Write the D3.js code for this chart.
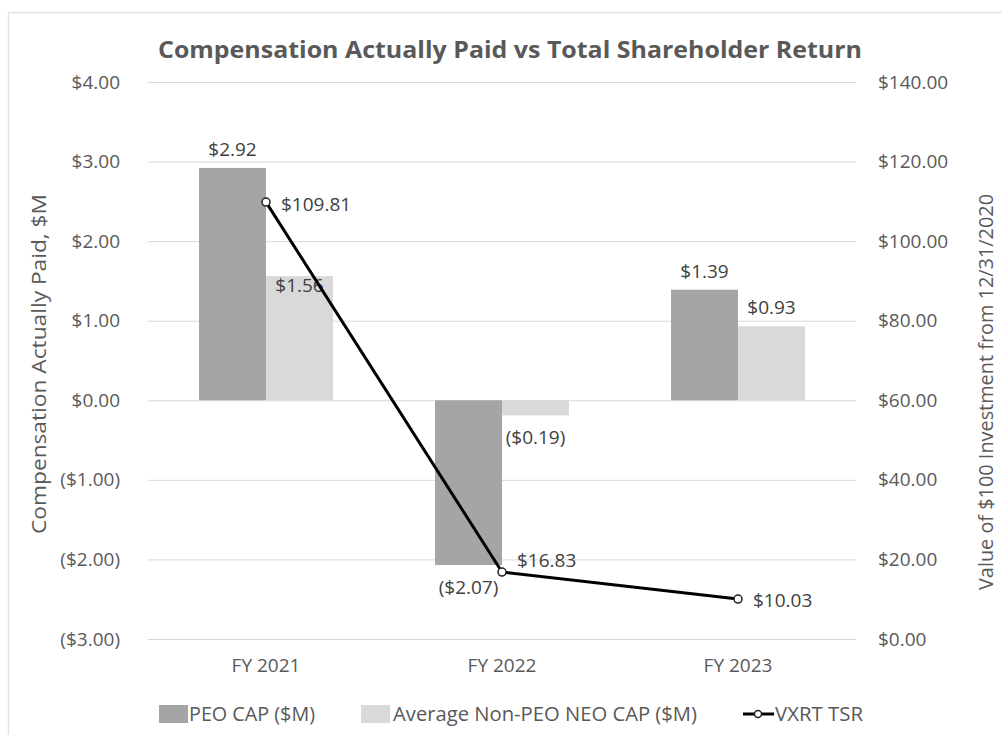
<!DOCTYPE html>
<html><head><meta charset="utf-8">
<script src="https://cdn.jsdelivr.net/npm/d3@7"></script>
<style>
body{margin:0;background:#fff;}
svg text{font-family:"Open Sans","Noto Sans",sans-serif;}
</style>
</head><body>
<svg id="chart" width="1002" height="735"></svg>
<script>
// ---- data ----
const categories = ["FY 2021", "FY 2022", "FY 2023"];
const peoCap = [2.92, -2.07, 1.39];
const neoCap = [1.56, -0.19, 0.93];
const tsr = [109.81, 16.83, 10.03];
const leftTicks = [4, 3, 2, 1, 0, -1, -2, -3];
const rightTicks = [0, 20, 40, 60, 80, 100, 120, 140];
const seriesNames = ["PEO CAP ($M)", "Average Non-PEO NEO CAP ($M)", "VXRT TSR"];
const titleText = "Compensation Actually Paid vs Total Shareholder Return";
const leftTitle = "Compensation Actually Paid, $M";
const rightTitle = "Value of $100 Investment from 12/31/2020";

// ---- layout ----
const svg = d3.select("#chart");
const plot = {left: 148, right: 856, top: 82, bottom: 639};
const colPEO = "#a5a5a5", colNEO = "#d9d9d9", textCol = "#595959", labelCol = "#404040";
const fs = "19px";

svg.append("rect").attr("width", 1002).attr("height", 735).attr("fill", "#fff");
svg.append("rect").attr("x", 8.5).attr("y", 12.5).attr("width", 1010).attr("height", 740)
  .attr("fill", "none").attr("stroke", "#e3e3e3").attr("stroke-width", 1.5);

const x = d3.scaleBand().domain(categories).range([plot.left, plot.right]);
const groupW = 134;
const x1 = d3.scaleBand().domain(["peo", "neo"]).range([0, groupW]);
const yL = d3.scaleLinear().domain([-3, 4]).range([plot.bottom, plot.top]);
const yR = d3.scaleLinear().domain([0, 140]).range([plot.bottom, plot.top]);

const fmtL = v => v < 0 ? "($" + Math.abs(v).toFixed(2) + ")" : "$" + v.toFixed(2);
const fmtR = v => "$" + v.toFixed(2);

// gridlines
const grid = svg.append("g").attr("transform", `translate(${plot.left},0)`)
  .call(d3.axisLeft(yL).tickValues(leftTicks).tickSize(-(plot.right - plot.left)).tickFormat(""));
grid.select(".domain").remove();
grid.selectAll("line").attr("stroke", "#d9d9d9").attr("stroke-width", 1);

// left axis
const ax = svg.append("g").attr("transform", `translate(${plot.left},0)`)
  .call(d3.axisLeft(yL).tickValues(leftTicks).tickSize(0).tickPadding(28).tickFormat(fmtL));
ax.select(".domain").remove();
ax.selectAll("text").attr("fill", textCol).style("font-size", fs);

// right axis
const axR = svg.append("g").attr("transform", `translate(${plot.right},0)`)
  .call(d3.axisRight(yR).tickValues(rightTicks).tickSize(0).tickPadding(22).tickFormat(fmtR));
axR.select(".domain").remove();
axR.selectAll("text").attr("fill", textCol).style("font-size", fs);

// category axis
const axB = svg.append("g").attr("transform", `translate(0,${plot.bottom})`)
  .call(d3.axisBottom(x).tickSize(0).tickPadding(20));
axB.select(".domain").remove();
axB.selectAll("text").attr("fill", textCol).style("font-size", fs);

// bars
const gx = c => x(c) + (x.bandwidth() - groupW) / 2;
const barData = [];
categories.forEach((c, i) => {
  barData.push({c, key: "peo", v: peoCap[i], col: colPEO, i});
  barData.push({c, key: "neo", v: neoCap[i], col: colNEO, i});
});
svg.append("g").selectAll("rect").data(barData).join("rect")
  .attr("x", d => gx(d.c) + x1(d.key))
  .attr("width", x1.bandwidth())
  .attr("y", d => yL(Math.max(0, d.v)))
  .attr("height", d => Math.abs(yL(d.v) - yL(0)))
  .attr("fill", d => d.col);

// bar labels
svg.append("g").selectAll("text").data(barData).join("text")
  .attr("x", d => gx(d.c) + x1(d.key) + x1.bandwidth() / 2)
  .attr("y", d => {
    if (d.key === "neo" && d.i === 0) return yL(d.v) + 16; // inside end
    return d.v >= 0 ? yL(d.v) - 12 : yL(d.v) + 29;
  })
  .attr("text-anchor", "middle").attr("fill", labelCol).style("font-size", fs)
  .text(d => fmtL(d.v));

// line
const pts = categories.map((c, i) => ({c, v: tsr[i], i}));
const line = d3.line().x(d => x(d.c) + x.bandwidth() / 2).y(d => yR(d.v));
svg.append("path").datum(pts).attr("d", line).attr("fill", "none")
  .attr("stroke", "#000").attr("stroke-width", 3).attr("stroke-linejoin", "round");
svg.append("g").selectAll("circle").data(pts).join("circle")
  .attr("cx", d => x(d.c) + x.bandwidth() / 2).attr("cy", d => yR(d.v)).attr("r", 4)
  .attr("fill", "#fff").attr("stroke", "#222").attr("stroke-width", 1.5);
const lineLabelDy = [9, -5, 8];
svg.append("g").selectAll("text").data(pts).join("text")
  .attr("x", d => x(d.c) + x.bandwidth() / 2 + 15)
  .attr("y", d => yR(d.v) + lineLabelDy[d.i])
  .attr("fill", labelCol).style("font-size", fs)
  .text(d => fmtR(d.v));

// title
svg.append("text").attr("x", 510).attr("y", 58).attr("text-anchor", "middle")
  .attr("fill", textCol).style("font-size", "24px").style("font-weight", "bold")
  .attr("textLength", 704).attr("lengthAdjust", "spacingAndGlyphs")
  .text(titleText);

// axis titles
svg.append("text").attr("transform", "translate(46,364) rotate(-90)")
  .attr("text-anchor", "middle").attr("fill", textCol).style("font-size", "20px")
  .attr("textLength", 340).attr("lengthAdjust", "spacingAndGlyphs").text(leftTitle);
svg.append("text").attr("transform", "translate(993,392) rotate(-90)")
  .attr("text-anchor", "middle").attr("fill", textCol).style("font-size", "20px")
  .attr("textLength", 396).attr("lengthAdjust", "spacingAndGlyphs").text(rightTitle);

// legend
const lg = svg.append("g").attr("transform", "translate(0,714)");
lg.append("rect").attr("x", 159).attr("y", -9).attr("width", 29).attr("height", 18).attr("fill", colPEO);
lg.append("text").attr("x", 189).attr("y", 7).attr("fill", textCol).style("font-size", "20px")
  .attr("textLength", 126).attr("lengthAdjust", "spacingAndGlyphs").text(seriesNames[0]);
lg.append("rect").attr("x", 361).attr("y", -9).attr("width", 29).attr("height", 18).attr("fill", colNEO);
lg.append("text").attr("x", 393).attr("y", 7).attr("fill", textCol).style("font-size", "20px")
  .attr("textLength", 304).attr("lengthAdjust", "spacingAndGlyphs").text(seriesNames[1]);
lg.append("line").attr("x1", 743).attr("x2", 774).attr("y1", 0).attr("y2", 0).attr("stroke", "#000").attr("stroke-width", 3);
lg.append("circle").attr("cx", 758).attr("cy", 0).attr("r", 3.5).attr("fill", "#fff").attr("stroke", "#222").attr("stroke-width", 1.5);
lg.append("text").attr("x", 775).attr("y", 7).attr("fill", textCol).style("font-size", "20px")
  .attr("textLength", 88).attr("lengthAdjust", "spacingAndGlyphs").text(seriesNames[2]);
</script>
</body></html>
